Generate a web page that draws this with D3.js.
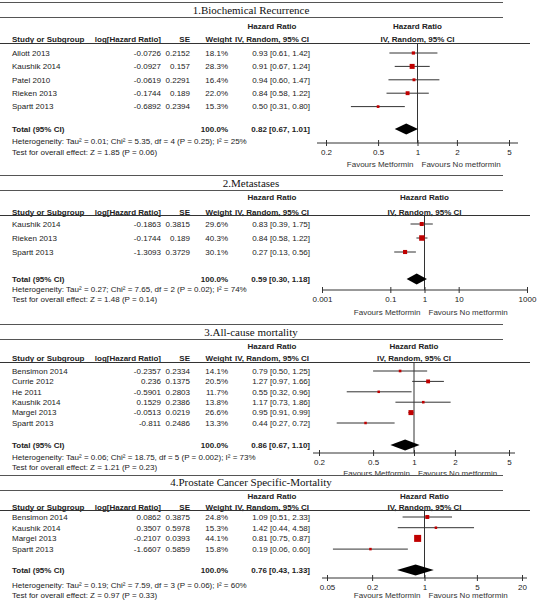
<!DOCTYPE html>
<html><head><meta charset="utf-8">
<script src="https://cdn.jsdelivr.net/npm/d3@7/dist/d3.min.js"></script>
<style>body{margin:0;background:#fff}svg{display:block}</style>
</head><body>
<script>
// ---------- DATA ----------
const p1Title = "1.Biochemical Recurrence";
const p1Studies = ["Allott 2013", "Kaushik 2014", "Patel 2010", "Rieken 2013", "Spartt 2013"];
const p1LogHR = [-0.0726, -0.0927, -0.0619, -0.1744, -0.6892];
const p1SE = [0.2152, 0.157, 0.2291, 0.189, 0.2394];
const p1Weight = [18.1, 28.3, 16.4, 22.0, 15.3];
const p1HR = [0.93, 0.91, 0.94, 0.84, 0.50];
const p1Lo = [0.61, 0.67, 0.60, 0.58, 0.31];
const p1Hi = [1.42, 1.24, 1.47, 1.22, 0.80];
const p1Total = [0.82, 0.67, 1.01];
const p1Ticks = [0.2, 0.5, 1, 2, 5];
const p1Het = "Heterogeneity: Tau\u00b2 = 0.01; Chi\u00b2 = 5.35, df = 4 (P = 0.25); I\u00b2 = 25%";
const p1Test = "Test for overall effect: Z = 1.85 (P = 0.06)";

const p2Title = "2.Metastases";
const p2Studies = ["Kaushik 2014", "Rieken 2013", "Spartt 2013"];
const p2LogHR = [-0.1863, -0.1744, -1.3093];
const p2SE = [0.3815, 0.189, 0.3729];
const p2Weight = [29.6, 40.3, 30.1];
const p2HR = [0.83, 0.84, 0.27];
const p2Lo = [0.39, 0.58, 0.13];
const p2Hi = [1.75, 1.22, 0.56];
const p2Total = [0.59, 0.30, 1.18];
const p2Ticks = [0.001, 0.1, 1, 10, 1000];
const p2Het = "Heterogeneity: Tau\u00b2 = 0.27; Chi\u00b2 = 7.65, df = 2 (P = 0.02); I\u00b2 = 74%";
const p2Test = "Test for overall effect: Z = 1.48 (P = 0.14)";

const p3Title = "3.All-cause mortality";
const p3Studies = ["Bensimon 2014", "Currie 2012", "He 2011", "Kaushik 2014", "Margel 2013", "Spartt 2013"];
const p3LogHR = [-0.2357, 0.236, -0.5901, 0.1529, -0.0513, -0.811];
const p3SE = [0.2334, 0.1375, 0.2803, 0.2386, 0.0219, 0.2486];
const p3Weight = [14.1, 20.5, 11.7, 13.8, 26.6, 13.3];
const p3HR = [0.79, 1.27, 0.55, 1.17, 0.95, 0.44];
const p3Lo = [0.50, 0.97, 0.32, 0.73, 0.91, 0.27];
const p3Hi = [1.25, 1.66, 0.96, 1.86, 0.99, 0.72];
const p3Total = [0.86, 0.67, 1.10];
const p3Ticks = [0.2, 0.5, 1, 2, 5];
const p3Het = "Heterogeneity: Tau\u00b2 = 0.06; Chi\u00b2 = 18.75, df = 5 (P = 0.002); I\u00b2 = 73%";
const p3Test = "Test for overall effect: Z = 1.21 (P = 0.23)";

const p4Title = "4.Prostate Cancer Specific-Mortality";
const p4Studies = ["Bensimon 2014", "Kaushik 2014", "Margel 2013", "Spartt 2013"];
const p4LogHR = [0.0862, 0.3507, -0.2107, -1.6607];
const p4SE = [0.3875, 0.5978, 0.0393, 0.5859];
const p4Weight = [24.8, 15.3, 44.1, 15.8];
const p4HR = [1.09, 1.42, 0.81, 0.19];
const p4Lo = [0.51, 0.44, 0.75, 0.06];
const p4Hi = [2.33, 4.58, 0.87, 0.60];
const p4Total = [0.76, 0.43, 1.33];
const p4Ticks = [0.05, 0.2, 1, 5, 20];
const p4Het = "Heterogeneity: Tau\u00b2 = 0.19; Chi\u00b2 = 7.59, df = 3 (P = 0.06); I\u00b2 = 60%";
const p4Test = "Test for overall effect: Z = 0.97 (P = 0.33)";

const favLeft = "Favours Metformin";
const favRight = "Favours No metformin";

function mk(title, studies, logHR, se, weight, hr, lo, hi, total, ticks, het, test) {
  return {title, ticks, het, test, total,
    rows: studies.map((s, i) => ({study: s, logHR: logHR[i], se: se[i], weight: weight[i], hr: hr[i], lo: lo[i], hi: hi[i]}))};
}
const panels = [
  mk(p1Title, p1Studies, p1LogHR, p1SE, p1Weight, p1HR, p1Lo, p1Hi, p1Total, p1Ticks, p1Het, p1Test),
  mk(p2Title, p2Studies, p2LogHR, p2SE, p2Weight, p2HR, p2Lo, p2Hi, p2Total, p2Ticks, p2Het, p2Test),
  mk(p3Title, p3Studies, p3LogHR, p3SE, p3Weight, p3HR, p3Lo, p3Hi, p3Total, p3Ticks, p3Het, p3Test),
  mk(p4Title, p4Studies, p4LogHR, p4SE, p4Weight, p4HR, p4Lo, p4Hi, p4Total, p4Ticks, p4Het, p4Test)
];

// ---------- LAYOUT ----------
const layouts = [
  {topLine: 2.5, title: 10, botLine: 17.5, hdr1: 26, hdr2: 39, under: 43.5, row0: 53, step: 13.4, total: 129, axisY: 143, favY: 164, het: 141, test: 152, range: [326, 509], pad: 9, maxSq: 5},
  {topLine: 175.5, title: 183, botLine: 190.5, hdr1: 197, hdr2: 212, under: 215.5, row0: 224, step: 14, total: 279, axisY: 290, favY: 312, het: 289, test: 299, range: [322, 527], pad: 0, maxSq: 5.5},
  {topLine: 324.5, title: 332, botLine: 339.5, hdr1: 346, hdr2: 358, under: 362.5, row0: 371, step: 10.4, total: 445, axisY: 453, favY: 473, het: 457, test: 467, range: [319, 509], pad: 6, maxSq: 5},
  {topLine: 475.5, title: 482, botLine: 490.5, hdr1: 496, hdr2: 507, under: 510.5, row0: 517, step: 10.7, total: 570, axisY: 578, favY: 595, het: 585, test: 595, range: [327, 522], pad: 5, maxSq: 7}
];
const COL = {study: 12, logHR: 161, se: 190, weight: 228, weightHdr: 232, ci: 310, ciHdr: 272};

const SANS = "'Liberation Sans', Arial, Helvetica, sans-serif";
const SERIF = "'Liberation Serif', 'Times New Roman', serif";
const TXT = "#222";
const svg = d3.select("body").append("svg").attr("width", 537).attr("height", 600)
  .style("font-family", SANS).style("font-size", "8px");

function text(g, x, y, s, anchor, bold) {
  return g.append("text").attr("x", x).attr("y", y).attr("dy", "0.35em")
    .attr("text-anchor", anchor || "start").attr("fill", TXT)
    .attr("font-weight", bold ? "bold" : "normal").text(s);
}

panels.forEach((p, k) => {
  const L = layouts[k];
  const g = svg.append("g");
  const x = d3.scaleLog().domain([p.ticks[0], p.ticks[p.ticks.length - 1]]).range(L.range);
  const sq = d3.scaleLinear().domain([0, d3.max(p.rows, d => d.weight)]).range([0, L.maxSq]);
  const rowY = i => L.row0 + i * L.step;

  // title band
  [L.topLine, L.botLine].forEach(y => g.append("line").attr("x1", 0).attr("x2", 503)
    .attr("y1", y).attr("y2", y).attr("stroke", "#555").attr("stroke-width", 1));
  g.append("text").attr("x", 251).attr("y", L.title).attr("dy", "0.35em").attr("text-anchor", "middle")
    .style("font-family", SERIF).style("font-size", "11px").attr("fill", "#111").text(p.title);

  // headers
  text(g, COL.ciHdr, L.hdr1, "Hazard Ratio", "middle", true);
  text(g, x(1), L.hdr1, "Hazard Ratio", "middle", true);
  text(g, COL.study, L.hdr2, "Study or Subgroup", "start", true);
  text(g, COL.logHR, L.hdr2, "log[Hazard Ratio]", "end", true);
  text(g, COL.se, L.hdr2, "SE", "end", true);
  text(g, COL.weightHdr, L.hdr2, "Weight", "end", true);
  text(g, COL.ciHdr, L.hdr2, "IV, Random, 95% CI", "middle", true);
  text(g, x(1), L.hdr2, "IV, Random, 95% CI", "middle", true);
  g.append("line").attr("x1", 0).attr("x2", 530).attr("y1", L.under).attr("y2", L.under)
    .attr("stroke", "#333").attr("stroke-width", 1);

  // study rows
  p.rows.forEach((r, i) => {
    const y = rowY(i);
    text(g, COL.study, y, r.study);
    text(g, COL.logHR, y, String(r.logHR), "end");
    text(g, COL.se, y, String(r.se), "end");
    text(g, COL.weight, y, r.weight.toFixed(1) + "%", "end");
    text(g, COL.ci, y, r.hr.toFixed(2) + " [" + r.lo.toFixed(2) + ", " + r.hi.toFixed(2) + "]", "end");
  });

  // reference line at 1
  g.append("line").attr("x1", x(1)).attr("x2", x(1)).attr("y1", L.under).attr("y2", L.axisY)
    .attr("stroke", "#333").attr("stroke-width", 1);

  // CI lines and squares
  p.rows.forEach((r, i) => {
    const y = rowY(i);
    g.append("line").attr("x1", x(r.lo)).attr("x2", x(r.hi)).attr("y1", y).attr("y2", y)
      .attr("stroke", "#333").attr("stroke-width", 1);
    const s = Math.max(2.5, sq(r.weight));
    g.append("rect").attr("x", x(r.hr) - s / 2).attr("y", y - s / 2).attr("width", s).attr("height", s)
      .attr("fill", "#c00000");
  });

  // total row
  const [te, tl, th] = p.total;
  text(g, COL.study, L.total, "Total (95% CI)", "start", true);
  text(g, COL.weight, L.total, "100.0%", "end", true);
  text(g, COL.ci, L.total, te.toFixed(2) + " [" + tl.toFixed(2) + ", " + th.toFixed(2) + "]", "end", true);
  g.append("path")
    .attr("d", `M${x(tl)},${L.total}L${x(te)},${L.total - 5.5}L${x(th)},${L.total}L${x(te)},${L.total + 5.5}Z`)
    .attr("fill", "#000");
  text(g, COL.study, L.het, p.het);
  text(g, COL.study, L.test, p.test);

  // axis
  const ax = g.append("g").attr("transform", `translate(0,${L.axisY})`)
    .call(d3.axisBottom(x).tickValues(p.ticks).tickFormat(d => String(d)).tickSizeOuter(0).tickSizeInner(3));
  ax.select(".domain").remove();
  ax.selectAll(".tick line").attr("y1", -3).attr("y2", 3).attr("stroke", "#333");
  ax.selectAll(".tick text").attr("y", 6).attr("fill", TXT).style("font-family", SANS).style("font-size", "8px");
  ax.append("line").attr("x1", L.range[0] - L.pad).attr("x2", L.range[1] + L.pad)
    .attr("y1", 0).attr("y2", 0).attr("stroke", "#333");

  text(g, x(1) - 4, L.favY, favLeft, "end").attr("fill", "#333");
  text(g, x(1) + 4, L.favY, favRight, "start").attr("fill", "#333");
});
</script>
</body></html>
